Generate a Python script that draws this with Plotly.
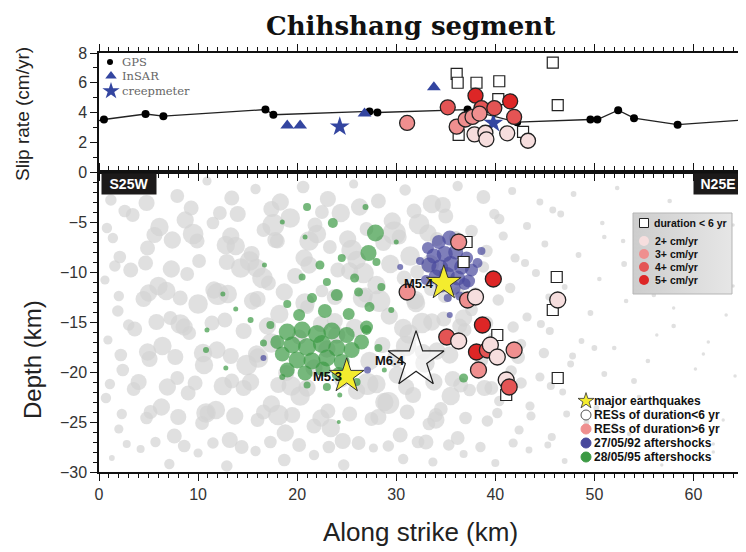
import plotly.graph_objects as go

# ---------------- data: top panel (slip rate) ----------------
gps_x = [0.5, 4.7, 6.5, 16.8, 17.6, 27.3, 28.1, 37.2, 42.2, 49.6, 50.3, 52.4, 54.0, 58.4]
gps_rate = [3.53, 3.9, 3.75, 4.2, 3.85, 4.07, 4.0, 4.2, 3.35, 3.53, 3.53, 4.15, 3.62, 3.18]
gps_line_x = [0.0, 0.5, 4.7, 6.5, 16.8, 17.6, 27.3, 28.1, 37.2, 42.2, 49.6, 50.3, 52.4, 54.0, 58.4, 65.0]
gps_line_rate = [3.45, 3.53, 3.9, 3.75, 4.2, 3.85, 4.07, 4.0, 4.2, 3.35, 3.53, 3.53, 4.15, 3.62, 3.18, 3.5]
insar_x = [19.0, 20.3, 26.8, 33.8]
insar_rate = [3.13, 3.13, 3.93, 5.7]
creep_x = [24.3, 39.8]
creep_rate = [3.05, 3.3]
res_short_top_x = [45.8, 36.1, 36.2, 38.1, 40.4, 46.3, 40.3, 42.8, 36.3]
res_short_top_rate = [7.35, 6.6, 6.0, 6.0, 6.1, 4.5, 4.9, 2.7, 2.5]
res_top_x = [31.1, 35.2, 38.0, 41.5, 38.6, 39.9, 41.9, 36.1, 37.0, 37.7, 38.4, 37.9, 39.0, 39.1, 41.2, 43.3]
res_top_rate = [3.3, 4.35, 5.13, 4.75, 4.3, 4.3, 3.7, 3.05, 3.53, 3.7, 3.93, 2.53, 2.64, 2.2, 2.6, 2.1]
res_top_class = [3, 4, 5, 5, 4, 4, 4, 3, 3, 3, 3, 2, 2, 2, 2, 2]

# ---------------- data: bottom panel (depth section) ----------------
# background seismicity (grey), read band by band
bg_x_a = [1.2, 4.8, 7.9, 10.9, 13.4, 15.8, 18.3, 20.6, 23.1, 25.7, 28.2, 30.9, 33.6, 36.2, 38.8, 41.7, 44.5, 47.9, 52.3, 57.6, 62.1]
bg_d_a = [-2.8, -3.1, -2.4, -0.9, -2.6, -1.7, -3.0, -1.5, -2.7, -1.2, -2.9, -1.8, -3.2, -1.4, -2.5, -1.9, -3.0, -2.2, -1.6, -2.9, -2.0]
bg_s_a = [10, 14, 12, 8, 13, 9, 15, 11, 14, 8, 13, 10, 16, 9, 12, 7, 6, 5, 4, 4, 3]
bg_x_b = [0.8, 3.4, 6.1, 8.7, 11.5, 14.0, 16.6, 19.3, 21.8, 24.4, 27.0, 29.6, 32.3, 35.0, 37.6, 40.4, 43.2, 46.6, 50.8, 55.1, 60.3, 64.0]
bg_d_b = [-5.6, -4.3, -5.5, -4.8, -5.1, -4.2, -5.8, -4.6, -5.3, -4.1, -5.7, -4.9, -5.2, -4.4, -5.9, -4.7, -5.4, -4.2, -5.1, -5.8, -4.6, -5.3]
bg_s_b = [9, 12, 16, 15, 11, 14, 12, 17, 13, 16, 12, 15, 18, 13, 11, 9, 7, 6, 4, 4, 3, 3]
bg_x_c = [2.1, 4.9, 7.4, 10.1, 12.8, 15.4, 18.0, 20.7, 23.3, 26.0, 28.7, 31.4, 34.1, 39.1, 42.0, 45.0, 48.4, 52.9, 58.4, 62.8]
bg_d_c = [-8.5, -7.6, -6.8, -8.9, -7.3, -8.2, -6.9, -8.6, -7.5, -8.8, -7.1, -8.4, -6.7, -7.9, -8.6, -7.2, -8.3, -6.9, -8.1, -7.4]
bg_s_c = [11, 13, 15, 12, 16, 14, 13, 15, 12, 16, 14, 17, 12, 11, 8, 6, 5, 4, 3, 3]
bg_x_d = [0.6, 3.2, 6.0, 8.9, 11.6, 14.3, 17.1, 19.8, 22.5, 25.3, 28.0, 30.8, 33.5, 36.3, 41.5, 44.1, 47.0, 50.5, 55.0, 61.0]
bg_d_d = [-10.8, -9.8, -11.4, -10.2, -11.8, -9.6, -11.1, -10.4, -11.9, -9.9, -11.3, -10.6, -11.7, -12.0, -11.6, -10.1, -11.5, -10.7, -9.9, -11.2]
bg_s_d = [8, 13, 16, 12, 15, 17, 13, 14, 11, 15, 16, 13, 12, 10, 9, 7, 5, 4, 3, 3]
bg_x_e = [1.9, 4.5, 7.2, 10.0, 12.7, 15.5, 18.2, 21.0, 23.8, 26.6, 29.3, 32.0, 34.8, 37.6, 40.3, 43.2, 46.3, 49.6, 53.2, 58.0, 63.3]
bg_d_e = [-13.9, -12.7, -14.6, -13.2, -14.8, -12.9, -14.2, -13.5, -14.9, -12.6, -14.4, -13.1, -14.7, -13.8, -12.8, -14.5, -13.3, -14.1, -12.9, -13.6, -14.3]
bg_s_e = [10, 14, 12, 17, 13, 15, 16, 12, 14, 17, 15, 16, 13, 11, 10, 8, 6, 5, 4, 3, 3]
bg_x_f = [0.9, 3.6, 6.4, 9.1, 11.9, 14.6, 17.4, 20.2, 23.0, 25.8, 28.6, 31.3, 34.1, 36.9, 39.8, 42.6, 45.5, 48.7, 52.0, 56.3, 61.5]
bg_d_f = [-16.8, -15.7, -17.4, -16.1, -17.8, -15.9, -17.1, -16.5, -17.7, -15.6, -17.3, -16.2, -17.9, -15.8, -16.6, -17.2, -15.9, -16.9, -17.6, -16.3, -17.0]
bg_s_f = [8, 13, 16, 12, 15, 14, 17, 13, 15, 16, 14, 17, 15, 12, 10, 9, 7, 5, 4, 3, 3]
bg_x_g = [2.4, 5.1, 7.9, 10.6, 13.4, 16.1, 18.9, 21.7, 24.5, 27.3, 30.1, 32.9, 35.7, 38.6, 41.6, 44.5, 47.6, 51.0, 55.4, 60.2, 64.2]
bg_d_g = [-19.8, -18.7, -20.6, -19.3, -20.9, -18.6, -20.1, -19.6, -20.8, -18.9, -20.3, -19.1, -20.7, -18.8, -19.9, -20.5, -19.2, -20.2, -18.9, -19.7, -20.4]
bg_s_g = [11, 14, 12, 16, 13, 17, 14, 15, 13, 16, 15, 17, 14, 12, 10, 8, 6, 5, 4, 3, 3]
bg_x_h = [0.7, 3.5, 6.3, 9.0, 11.8, 14.6, 17.4, 20.3, 23.1, 26.0, 28.8, 31.7, 34.5, 37.4, 40.4, 43.5, 46.8, 50.2, 54.5, 59.3]
bg_d_h = [-22.6, -21.7, -23.5, -22.1, -23.8, -21.6, -23.2, -22.4, -23.9, -21.9, -23.0, -22.3, -23.7, -21.8, -22.9, -23.4, -22.0, -23.6, -22.5, -23.1]
bg_s_h = [9, 12, 15, 13, 16, 14, 15, 17, 13, 15, 16, 14, 12, 11, 9, 8, 6, 5, 4, 3]
bg_x_i = [2.0, 4.8, 7.6, 10.4, 13.2, 16.0, 18.8, 21.7, 24.6, 27.5, 30.4, 33.3, 36.2, 39.2, 42.4, 45.7, 49.2, 53.5, 58.6, 63.0]
bg_d_i = [-25.7, -24.6, -26.4, -25.1, -26.8, -24.8, -26.1, -25.4, -26.9, -24.7, -26.3, -25.2, -26.6, -24.9, -25.8, -26.5, -25.0, -26.2, -25.5, -24.8]
bg_s_i = [8, 11, 13, 12, 14, 12, 15, 13, 14, 12, 13, 11, 12, 10, 8, 7, 5, 4, 3, 3]
bg_x_j = [1.3, 4.2, 7.1, 10.0, 12.9, 15.8, 18.7, 21.7, 24.7, 27.7, 30.7, 33.7, 36.8, 40.0, 43.4, 47.0, 51.5, 56.8, 62.0]
bg_d_j = [-28.6, -27.7, -29.2, -28.1, -29.4, -27.9, -28.8, -28.3, -29.3, -27.6, -28.7, -29.0, -28.2, -29.1, -27.8, -28.9, -28.4, -29.3, -28.0]
bg_s_j = [5, 7, 9, 8, 10, 9, 11, 9, 10, 8, 9, 8, 7, 7, 6, 5, 4, 3, 3]
bg_x_k = [9.5, 13.8, 17.6, 21.2, 25.5, 29.8, 33.4, 12.0, 16.5, 20.8, 24.0, 28.3, 32.6, 36.8, 8.2, 14.9, 19.4, 27.1, 31.0, 35.5,
          10.8, 18.1, 23.4, 29.2, 34.0, 38.9, 6.8, 15.2, 26.7, 33.0]
bg_d_k = [-6.2, -7.4, -5.3, -6.9, -7.8, -6.1, -9.2, -12.2, -10.6, -13.1, -16.3, -12.9, -15.1, -14.6, -15.2, -19.3, -21.4, -21.2,
          -17.4, -22.4, -24.1, -24.3, -25.6, -23.1, -24.8, -21.6, -11.9, -8.9, -10.1, -27.0]
bg_s_k = [18, 16, 19, 17, 18, 20, 16, 19, 18, 17, 15, 19, 18, 15, 17, 18, 17, 19, 18, 16, 17, 18, 16, 19, 15, 14, 16, 17, 18, 13]
bg_x_l = [51, 53, 56, 58, 61, 54, 57, 62, 50, 52, 59, 64]
bg_d_l = [-6.5, -9.2, -12.3, -15.4, -18.2, -20.9, -24.1, -27.2, -17.6, -25.3, -8.1, -11.4]
bg_s_l = [4, 5, 4, 4, 3, 5, 4, 3, 5, 4, 3, 3]
bg_x_m = [2.6, 9.3, 12.2, 17.4, 22.5, 26.3, 31.8, 34.7, 39.9, 45.8,
          1.4, 5.6, 9.9, 13.3, 17.8, 22.0, 25.1, 30.3, 33.2, 36.0, 40.8,
          1.6, 4.7, 7.3, 12.9, 15.9, 21.2, 24.1, 29.4, 32.1, 38.8, 43.0,
          2.0, 5.0, 8.2, 13.0, 16.0, 18.7, 23.8, 26.9, 31.9, 34.9, 38.0, 45.4,
          3.0, 5.8, 8.6, 11.4, 17.0, 22.4, 30.7, 33.6, 36.4, 39.1, 41.8, 44.6,
          2.2, 4.9, 7.7, 10.5, 13.3, 15.9, 30.0, 32.7, 35.4, 42.3, 44.9, 47.8,
          1.1, 4.0, 6.9, 9.7, 12.5, 15.3, 18.1, 21.0, 28.0, 31.0, 33.8, 36.5, 39.6, 42.6, 45.6,
          2.3, 5.2, 8.0, 10.9, 13.7, 16.6, 19.5, 22.4, 25.3, 28.2, 31.1, 34.0, 37.0, 40.2, 43.6, 47.2,
          2.8, 5.7, 8.6, 11.5, 14.4, 17.3, 20.2, 23.2, 26.2, 29.2, 32.2, 35.3, 38.5, 41.8, 45.3]
bg_d_m = [-3.9, -3.6, -4.1, -3.7, -4.0, -3.5, -3.9, -3.3, -4.2, -3.8,
          -6.6, -6.3, -6.9, -6.4, -6.8, -6.2, -6.7, -6.5, -6.1, -6.6, -6.4,
          -9.4, -9.1, -9.7, -9.0, -9.6, -9.3, -9.8, -9.2, -10.0, -9.5, -9.1,
          -12.4, -12.1, -12.6, -12.2, -12.7, -12.0, -12.5, -12.3, -12.8, -12.4, -12.1, -12.5,
          -15.3, -15.0, -15.5, -15.1, -15.4, -15.2, -15.6, -15.0, -15.4, -15.1, -15.5, -15.2,
          -18.3, -18.0, -18.5, -18.1, -18.4, -18.2, -18.6, -18.0, -18.3, -18.5, -18.1, -18.4,
          -21.2, -21.0, -21.5, -21.1, -21.4, -21.0, -21.3, -21.6, -21.2, -21.5, -21.0, -21.3, -21.6, -21.1, -21.4,
          -24.2, -24.0, -24.5, -24.1, -24.4, -24.0, -24.3, -24.6, -24.2, -24.5, -24.0, -24.3, -24.6, -24.1, -24.4, -24.2,
          -27.2, -27.0, -27.4, -27.1, -27.5, -27.0, -27.3, -27.5, -27.1, -27.4, -27.0, -27.3, -27.5, -27.1, -27.3]
bg_s_m = [11, 13, 12, 14, 12, 15, 13, 14, 9, 6,
          9, 14, 13, 15, 14, 16, 15, 13, 15, 12, 8,
          10, 13, 15, 14, 16, 15, 13, 16, 12, 10, 7,
          9, 15, 13, 16, 14, 15, 14, 13, 16, 12, 10, 6,
          10, 14, 15, 13, 15, 14, 16, 15, 13, 12, 10, 7,
          11, 15, 14, 16, 14, 15, 16, 14, 15, 12, 9, 6,
          9, 14, 15, 13, 16, 15, 14, 15, 16, 14, 15, 13, 12, 10, 7,
          9, 12, 14, 13, 15, 13, 14, 15, 13, 14, 13, 12, 11, 9, 8, 6,
          7, 9, 11, 10, 12, 11, 12, 11, 12, 10, 11, 10, 9, 8, 6]

bg_x = bg_x_a + bg_x_b + bg_x_c + bg_x_d + bg_x_e + bg_x_f + bg_x_g + bg_x_h + bg_x_i + bg_x_j + bg_x_k + bg_x_l + bg_x_m
bg_depth = bg_d_a + bg_d_b + bg_d_c + bg_d_d + bg_d_e + bg_d_f + bg_d_g + bg_d_h + bg_d_i + bg_d_j + bg_d_k + bg_d_l + bg_d_m
bg_size = bg_s_a + bg_s_b + bg_s_c + bg_s_d + bg_s_e + bg_s_f + bg_s_g + bg_s_h + bg_s_i + bg_s_j + bg_s_k + bg_s_l + bg_s_m

# 28/05/95 aftershocks (green)
as95_x = [19.0, 20.5, 22.0, 23.5, 25.0, 19.5, 21.0, 22.5, 24.0, 25.5, 20.0, 21.5, 23.0, 24.5, 18.5, 26.5, 19.0, 20.8, 22.6, 24.2, 27.0, 18.0,
          20.2, 22.8, 25.2, 27.3, 21.5, 24.0, 26.2, 19.0, 23.0, 28.5, 25.8, 22.3, 24.5, 28.0, 20.5, 27.0, 28.2, 17.3, 16.6, 15.3, 13.8, 12.5,
          21.0, 23.6, 27.9, 27.2, 26.9, 20.8, 18.5, 16.7, 30.0, 29.5,
          10.9, 10.8, 12.8,
          36.8, 24.3, 21.0, 26.0, 23.0, 24.2, 28.8, 18.5]
as95_depth = [-16.0, -15.8, -16.2, -15.9, -16.3, -17.3, -17.5, -17.2, -17.6, -17.8, -18.8, -18.9, -18.6, -19.0, -18.2, -17.0, -19.8, -20.1, -19.7, -20.2, -15.5, -17.0,
              -14.3, -13.9, -14.2, -13.5, -12.6, -12.3, -12.0, -13.2, -11.0, -11.5, -10.6, -9.3, -8.6, -9.0, -10.5, -15.8, -17.6, -15.3, -17.1, -14.8, -13.7, -12.2,
              -3.5, -5.1, -6.1, -8.1, -3.5, -6.5, -5.0, -9.3, -7.0, -13.8,
              -15.8, -17.8, -19.6,
              -20.6, -22.3, -21.3, -21.0, -21.5, -25.0, -19.8, -20.5]
as95_size = [17, 17, 18, 17, 16, 17, 18, 18, 17, 16, 17, 17, 17, 16, 15, 15, 15, 15, 15, 14, 13, 14,
             12, 14, 12, 10, 10, 12, 9, 8, 8, 8, 9, 9, 8, 8, 7, 10, 8, 8, 7, 6, 5, 5,
             8, 10, 17, 16, 6, 5, 5, 5, 5, 6,
             5, 6, 5,
             9, 5, 7, 8, 8, 4, 5, 6]

# 27/05/92 aftershocks (blue)
as92_x = [33.2, 34.3, 35.4, 36.5, 33.8, 34.9, 36.0, 37.1, 33.3, 34.4, 35.5, 36.6, 37.6, 34.0, 35.1, 36.2, 37.3, 34.6, 35.8, 36.9,
          38.2, 33.0, 32.4, 36.4, 35.2, 38.6, 30.4, 35.4, 27.1, 16.6]
as92_depth = [-7.6, -7.0, -6.6, -7.2, -8.4, -8.2, -8.0, -8.6, -9.3, -9.6, -9.2, -9.5, -9.8, -10.5, -10.3, -10.6, -10.9, -11.4, -11.6, -11.2,
              -9.1, -10.8, -8.9, -12.4, -12.6, -7.9, -9.5, -14.3, -19.8, -18.6]
as92_size = [12, 14, 15, 12, 15, 16, 15, 13, 15, 17, 16, 15, 13, 15, 16, 15, 13, 13, 14, 12, 10, 10, 8, 9, 8, 8, 6, 6, 7, 6]

res_short_x = [37.1, 36.8, 46.2, 45.8, 46.3, 41.1, 40.2]
res_short_depth = [-7.0, -9.0, -10.5, -13.8, -20.6, -22.3, -16.3]

res_x = [36.3, 39.8, 31.1, 37.2, 38.0, 38.7, 46.3, 35.1, 36.3, 38.1, 39.2, 39.5, 38.3, 40.2, 41.9, 41.1, 41.4]
res_depth = [-7.0, -10.7, -12.0, -12.8, -12.5, -15.3, -12.8, -16.5, -16.9, -18.0, -17.8, -17.3, -19.8,
             -18.5, -17.8, -20.8, -21.5]
res_class = [3, 5, 3, 3, 2, 5, 2, 4, 2, 5, 4, 2, 3, 2, 3, 2, 4]

eq_x = [34.8, 25.0]
eq_depth = [-11.1, -20.4]
eq_labels = ["M5.4", "M5.3"]
big_eq_x = [32.0]
big_eq_depth = [-18.8]
big_eq_labels = ["M6.4"]

legend_rate_labels = ["2+ cm/yr", "3+ cm/yr", "4+ cm/yr", "5+ cm/yr"]
legend_rate_class = [2, 3, 4, 5]
legend_sym_labels = ["major earthquakes", "RESs of duration<6 yr", "RESs of duration>6 yr",
                     "27/05/92 aftershocks", "28/05/95 aftershocks"]

# ---------------- styles ----------------
RATE_COLORS = {2: "#f6dede", 3: "#ef8f8f", 4: "#e45454", 5: "#dd2626"}
GRAY = "#d3d3d3"
GREEN = "#3c9a44"
BLUE92 = "#48489c"
BLUE = "#3345a0"
YELLOW = "#f4ec2e"
BG_SCALE = 1.15

# page-pixel frame of the plot area (the page body adds an 8 px offset)
OFF = 8
L, R, T, B = 99, 743, 53, 472
FIG_W, FIG_H = 746 - OFF, 552 - OFF


def px(x):
    return (x - L) / (R - L)


def py(y):
    return (B - y) / (B - T)


fig = go.Figure()

# top panel
fig.add_trace(go.Scatter(x=gps_line_x, y=gps_line_rate, mode="lines", line=dict(color="#222", width=1.3),
                         xaxis="x2", yaxis="y2", hoverinfo="skip"))
fig.add_trace(go.Scatter(x=gps_x, y=gps_rate, mode="markers", marker=dict(color="black", size=8),
                         xaxis="x2", yaxis="y2"))
fig.add_trace(go.Scatter(x=insar_x, y=insar_rate, mode="markers",
                         marker=dict(color=BLUE, size=12, symbol="triangle-up"), xaxis="x2", yaxis="y2"))
fig.add_trace(go.Scatter(x=creep_x, y=creep_rate, mode="markers",
                         marker=dict(color=BLUE, size=15, symbol="star"), xaxis="x2", yaxis="y2"))
fig.add_trace(go.Scatter(x=res_short_top_x, y=res_short_top_rate, mode="markers",
                         marker=dict(color="white", size=11, symbol="square", line=dict(color="#222", width=1.2)),
                         xaxis="x2", yaxis="y2"))
fig.add_trace(go.Scatter(x=res_top_x, y=res_top_rate, mode="markers",
                         marker=dict(color=[RATE_COLORS[c] for c in res_top_class], size=15,
                                     line=dict(color="#222", width=1.3)),
                         xaxis="x2", yaxis="y2"))

# bottom panel
fig.add_trace(go.Scatter(x=bg_x, y=bg_depth, mode="markers",
                         marker=dict(color=GRAY, size=[s * BG_SCALE for s in bg_size], line=dict(width=0)),
                         xaxis="x", yaxis="y"))
fig.add_trace(go.Scatter(x=as95_x, y=as95_depth, mode="markers",
                         marker=dict(color=GREEN, size=as95_size, line=dict(width=0)), xaxis="x", yaxis="y"))
fig.add_trace(go.Scatter(x=as92_x, y=as92_depth, mode="markers",
                         marker=dict(color=BLUE92, size=as92_size, line=dict(width=0)), xaxis="x", yaxis="y"))
fig.add_trace(go.Scatter(x=res_short_x, y=res_short_depth, mode="markers",
                         marker=dict(color="white", size=11, symbol="square", line=dict(color="#222", width=1.2)),
                         xaxis="x", yaxis="y"))
fig.add_trace(go.Scatter(x=res_x, y=res_depth, mode="markers",
                         marker=dict(color=[RATE_COLORS[c] for c in res_class], size=16,
                                     line=dict(color="#222", width=1.3)),
                         xaxis="x", yaxis="y"))

annotations = []
for x, d, t, sh in zip(eq_x + big_eq_x, eq_depth + big_eq_depth, eq_labels + big_eq_labels, [-8, -3, -9]):
    annotations.append(dict(x=x, y=d, xref="x", yref="y", text=t, showarrow=False, xanchor="right",
                            yanchor="middle", xshift=sh, yshift=0,
                            font=dict(family="Liberation Sans", size=13, color="#111", weight="bold")))

fig.add_trace(go.Scatter(x=big_eq_x, y=big_eq_depth, mode="markers",
                         marker=dict(color="rgba(255,255,255,0.55)", size=42, symbol="star",
                                     line=dict(color="#222", width=1.2)),
                         xaxis="x", yaxis="y"))
fig.add_trace(go.Scatter(x=eq_x, y=eq_depth, mode="markers",
                         marker=dict(color=YELLOW, size=26, symbol="star", line=dict(color="#333", width=1)),
                         xaxis="x", yaxis="y"))

# ---------------- legend markers (pixel overlay axes) ----------------
top_leg_y = [62, 76, 91]
fig.add_trace(go.Scatter(x=[110], y=[top_leg_y[0]], mode="markers", marker=dict(color="black", size=6),
                         xaxis="x4", yaxis="y4", cliponaxis=False))
fig.add_trace(go.Scatter(x=[111], y=[top_leg_y[1]], mode="markers",
                         marker=dict(color=BLUE, size=10, symbol="triangle-up"),
                         xaxis="x4", yaxis="y4", cliponaxis=False))
fig.add_trace(go.Scatter(x=[111], y=[top_leg_y[2]], mode="markers", marker=dict(color=BLUE, size=13, symbol="star"),
                         xaxis="x4", yaxis="y4", cliponaxis=False))

# rate legend box (drawn in the overlay so it sits above the seismicity, below its own markers)
fig.add_trace(go.Scatter(x=[633, 732, 732, 633, 633], y=[213, 213, 294, 294, 213], mode="lines",
                         fill="toself",
                         fillgradient=dict(type="horizontal", colorscale=[[0, "#cdcdcd"], [1, "#e6e6e6"]]),
                         line=dict(color="#b5b5b5", width=1),
                         xaxis="x3", yaxis="y3", cliponaxis=False, hoverinfo="skip"))
fig.add_trace(go.Scatter(x=[644], y=[223], mode="markers",
                         marker=dict(color="white", size=9, symbol="square", line=dict(color="#222", width=1)),
                         xaxis="x3", yaxis="y3", cliponaxis=False))
rate_leg_y = [241, 254, 267, 280]
fig.add_trace(go.Scatter(x=[644] * 4, y=rate_leg_y, mode="markers",
                         marker=dict(color=[RATE_COLORS[c] for c in legend_rate_class], size=10),
                         xaxis="x3", yaxis="y3", cliponaxis=False))

sym_y = [401, 415, 429, 443, 457]
fig.add_trace(go.Scatter(x=[586], y=[sym_y[0]], mode="markers",
                         marker=dict(color=YELLOW, size=12, symbol="star", line=dict(color="#333", width=0.8)),
                         xaxis="x3", yaxis="y3", cliponaxis=False))
fig.add_trace(go.Scatter(x=[586, 586, 586, 586], y=sym_y[1:], mode="markers",
                         marker=dict(color=["white", "#ef8f8f", BLUE92, GREEN], size=10,
                                     line=dict(color=["#555", "#ef8f8f", BLUE92, GREEN], width=1)),
                         xaxis="x3", yaxis="y3", cliponaxis=False))


# ---------------- texts (paper coordinates from page pixels) ----------------
def text_at(x, y, text, size, family="Liberation Sans", color="#111", xanchor="left", angle=0, **kw):
    annotations.append(dict(x=px(x), y=py(y), xref="paper", yref="paper", text=text, showarrow=False,
                            xanchor=xanchor, yanchor="middle", textangle=angle,
                            font=dict(family=family, size=size, color=color, **kw.pop("fontkw", {})), **kw))


for ty, tt in zip(top_leg_y, ["GPS", "InSAR", "creepmeter"]):
    text_at(121, ty, tt, 11.5, family="DejaVu Serif", color="#666", borderpad=0)
text_at(652, 223, "duration < 6 yr", 10.5, fontkw=dict(weight="bold"))
for ly, lt in zip(rate_leg_y, legend_rate_labels):
    text_at(653, ly, lt, 10.5, fontkw=dict(weight="bold"))
for ly, lt in zip(sym_y, legend_sym_labels):
    text_at(593, ly, lt, 12, family="Liberation Sans Narrow, Liberation Sans", borderpad=0,
            fontkw=dict(weight="bold"))

text_at(129, 184, "S25W", 14, color="white", xanchor="center", bgcolor="#1c1a1a", width=52, height=18,
        borderpad=1, fontkw=dict(weight="bold"))
text_at(718, 184, "N25E", 14, color="white", xanchor="center", bgcolor="#1c1a1a", width=46, height=18,
        borderpad=1, fontkw=dict(weight="bold"))

text_at(410, 26, "<b>Chihshang segment</b>", 26, family="DejaVu Serif", xanchor="center")
text_at(22, 114, "Slip rate (cm/yr)", 19, color="#222", xanchor="center", angle=-90)
text_at(32, 360, "Depth (km)", 24, color="#222", xanchor="center", angle=-90)
text_at(420, 532, "Along strike (km)", 26, color="#222", xanchor="center")

split = 300 / (B - T)

axis_common = dict(showline=True, linecolor="#111", linewidth=1.5, mirror="allticks", ticks="outside",
                   tickcolor="#111", tickwidth=1.2, showgrid=False, zeroline=False,
                   tickfont=dict(family="Liberation Sans", size=16, color="#333"))
minor_common = dict(ticklen=4, ticks="outside", tickcolor="#111", tickwidth=1)

fig.update_layout(
    width=FIG_W, height=FIG_H,
    margin=dict(l=L - OFF, r=746 - R, t=T - OFF, b=552 - B, autoexpand=False),
    paper_bgcolor="white", plot_bgcolor="white",
    showlegend=False,
    xaxis=dict(range=[0, 65], anchor="y", domain=[0, 1], tickvals=[0, 10, 20, 30, 40, 50, 60], ticklen=7,
               minor=dict(dtick=1, **minor_common), **axis_common),
    yaxis=dict(range=[-30, 0], domain=[0, split], anchor="x", tickvals=[-30, -25, -20, -15, -10, -5],
               ticklen=7, minor=dict(dtick=1, **minor_common), **axis_common),
    xaxis2=dict(range=[0, 65], anchor="y2", domain=[0, 1], matches="x", showticklabels=False,
                tickvals=[0, 10, 20, 30, 40, 50, 60], ticklen=7,
                minor=dict(dtick=1, **minor_common), **axis_common),
    yaxis2=dict(range=[0, 8], domain=[split, 1], anchor="x2", tickvals=[0, 2, 4, 6, 8], ticklen=7,
                minor=dict(dtick=1, **minor_common), **axis_common),
    xaxis3=dict(range=[L, R], anchor="y3", overlaying="x", visible=False, fixedrange=True),
    yaxis3=dict(range=[B, B - 300], anchor="x3", overlaying="y", visible=False, fixedrange=True),
    xaxis4=dict(range=[L, R], anchor="y4", overlaying="x2", visible=False, fixedrange=True),
    yaxis4=dict(range=[B - 300, T], anchor="x4", overlaying="y2", visible=False, fixedrange=True),
    annotations=annotations,
)

fig.write_html("out.html")
